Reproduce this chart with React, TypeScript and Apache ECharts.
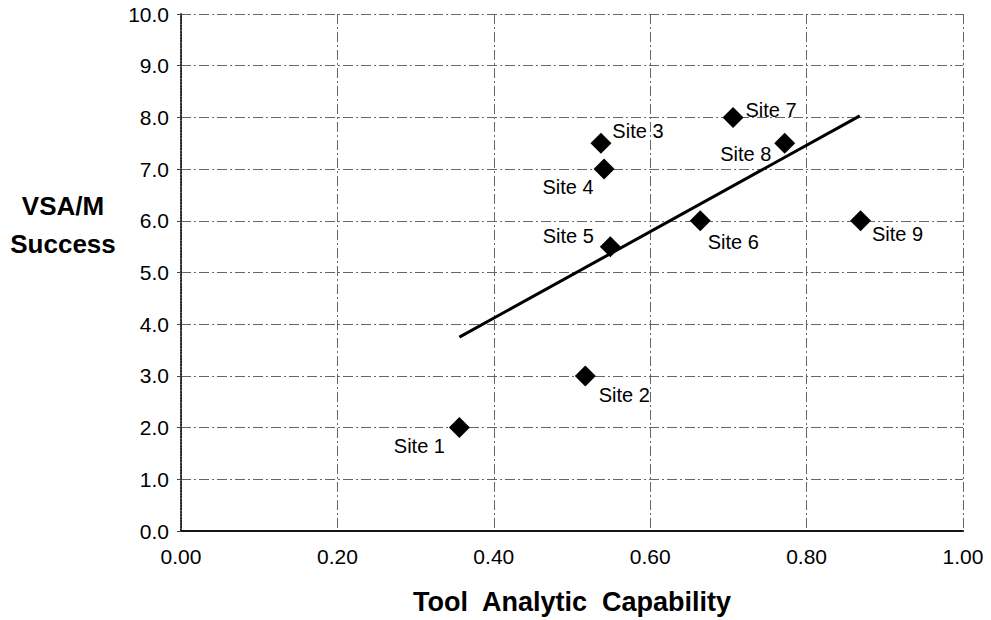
import React, { useEffect, useRef } from "react";
import * as echarts from "echarts";

const siteNames = ["Site 1", "Site 2", "Site 3", "Site 4", "Site 5", "Site 6", "Site 7", "Site 8", "Site 9"];
const capability = [0.356, 0.517, 0.537, 0.541, 0.549, 0.664, 0.706, 0.772, 0.869];
const success = [2.0, 3.0, 7.5, 7.0, 5.5, 6.0, 8.0, 7.5, 6.0];
const trendX = [0.356, 0.868];
const trendY = [3.75, 8.03];

// label placement (layout only)
const labelOffsets: [number, number][] = [
  [-40, 18], [39, 19], [37, -12], [-36, 18], [-42, -11], [33, 21], [38, -7], [-39, 11], [37, 13],
];

const FONT = "'Liberation Sans', Arial, Helvetica, sans-serif";
const gridLine = { color: "#666", width: 1, type: [10, 3, 2, 3] as number[] };

export default function App() {
  const ref = useRef<HTMLDivElement>(null);
  useEffect(() => {
    document.body.style.margin = "0";
    const chart = echarts.init(ref.current!, null, { renderer: "svg" });
    chart.setOption({
      animation: false,
      backgroundColor: "#fff",
      textStyle: { fontFamily: FONT },
      grid: { left: 181, right: 28, top: 14, bottom: 89 },
      graphic: [
        {
          type: "text",
          x: 63,
          y: 225,
          style: {
            text: "VSA/M\nSuccess",
            font: `bold 26px ${FONT}`,
            fill: "#000",
            textAlign: "center",
            textVerticalAlign: "middle",
            lineHeight: 38,
          },
        },
      ],
      xAxis: [
        {
          type: "value",
          min: 0,
          max: 1,
          interval: 0.2,
          name: "Tool  Analytic  Capability",
          nameLocation: "middle",
          nameGap: 57,
          nameTextStyle: { fontSize: 27, fontWeight: "bold", color: "#000", fontFamily: FONT },
          axisLine: { show: true, lineStyle: { color: "#000", width: 2 } },
          axisTick: { show: false },
          axisLabel: {
            fontSize: 21,
            color: "#000",
            margin: 15,
            fontFamily: FONT,
            formatter: (v: number) => v.toFixed(2),
          },
          splitLine: { show: true, lineStyle: gridLine },
        },
        {
          type: "value",
          position: "top",
          min: 0,
          max: 1,
          interval: 0.2,
          axisLine: { show: true, lineStyle: { color: "#222", width: 1.5, type: "dotted" } },
          axisTick: { show: false },
          axisLabel: { show: false },
          splitLine: { show: false },
        },
      ],
      yAxis: [
        {
          type: "value",
          min: 0,
          max: 10,
          interval: 1,
          axisLine: { show: true, lineStyle: { color: "#222", width: 1.5, type: "dotted" } },
          axisTick: { show: true, length: 4, lineStyle: { color: "#444" } },
          axisLabel: {
            fontSize: 21,
            color: "#000",
            margin: 12,
            fontFamily: FONT,
            formatter: (v: number) => v.toFixed(1),
          },
          splitLine: { show: true, lineStyle: gridLine },
        },
        {
          type: "value",
          position: "right",
          min: 0,
          max: 10,
          interval: 1,
          axisLine: { show: true, lineStyle: { color: "#222", width: 1.5, type: "dotted" } },
          axisTick: { show: false },
          axisLabel: { show: false },
          splitLine: { show: false },
        },
      ],
      series: [
        {
          type: "line",
          data: trendX.map((x, i) => [x, trendY[i]]),
          symbol: "none",
          lineStyle: { color: "#000", width: 3 },
          z: 2,
          silent: true,
        },
        {
          type: "scatter",
          symbol: "diamond",
          symbolSize: 21,
          itemStyle: { color: "#000", opacity: 1 },
          z: 3,
          data: capability.map((x, i) => ({
            value: [x, success[i]],
            name: siteNames[i],
            label: {
              show: true,
              position: "inside",
              offset: labelOffsets[i],
              formatter: siteNames[i],
              color: "#000",
              textBorderWidth: 0,
              fontSize: 20,
              fontFamily: FONT,
            },
          })),
        },
      ],
    });
    return () => chart.dispose();
  }, []);
  return (
    <div
      ref={ref}
      style={{ position: "fixed", left: 0, top: 0, width: 991, height: 620, background: "#fff" }}
    />
  );
}
